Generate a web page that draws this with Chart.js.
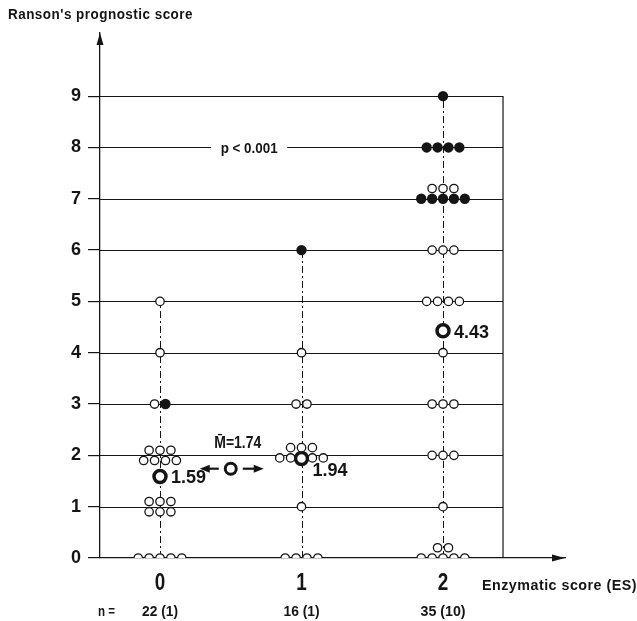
<!DOCTYPE html>
<html>
<head>
<meta charset="utf-8">
<script src="https://cdn.jsdelivr.net/npm/chart.js@4"></script>
<style>
  body { margin: 0; background: #fff; }
  #wrap { width: 637px; height: 621px; }
</style>
</head>
<body>
<div id="wrap"><canvas id="chartRanson" width="637" height="621"></canvas></div>
<script>
// ---- Data ----
const esLevels = [0, 1, 2];
const scoreLevels = [0, 1, 2, 3, 4, 5, 6, 7, 8, 9];

// number of patients per Ranson score (index = score), survivors (open) / deaths (filled)
const survivorsES0 = [5, 6, 7, 1, 1, 1, 0, 0, 0, 0];
const deathsES0    = [0, 0, 0, 1, 0, 0, 0, 0, 0, 0];
const survivorsES1 = [4, 1, 7, 2, 1, 0, 0, 0, 0, 0];
const deathsES1    = [0, 0, 0, 0, 0, 0, 1, 0, 0, 0];
const survivorsES2 = [7, 1, 3, 3, 1, 4, 3, 3, 0, 0];
const deathsES2    = [0, 0, 0, 0, 0, 0, 0, 5, 4, 1];

const groupMeans = [1.59, 1.94, 4.43];
const pooledMean = 1.74;
const groupN = ["22 (1)", "16 (1)", "35 (10)"];
const pText = "p < 0.001";

// ---- Layout of the stacked dots ----
const DOT_STEP = 0.077;
const ROW_GAP = 0.2;
const stackRows = {
  "0-1": ["xxx", "xxx"],
  "0-2": ["xxxx", "xxx"],
  "1-2": ["xx.xx", "xxx"],
  "2-0": ["xxxxx", "xx"],
  "2-7": ["xxxxx", "xxx"]
};
const stackBase = { "0-1": -0.1, "0-2": -0.1, "1-2": -0.05 };

const FONT = '"Liberation Sans", Arial, sans-serif';
const INK = '#151515';

function buildDots() {
  const open = [], filled = [];
  const survivors = [survivorsES0, survivorsES1, survivorsES2];
  const deaths = [deathsES0, deathsES1, deathsES2];
  esLevels.forEach((es, i) => {
    scoreLevels.forEach(score => {
      const nO = survivors[i][score], nF = deaths[i][score];
      if (nO + nF === 0) return;
      const key = es + "-" + score;
      const rows = stackRows[key] || ["x".repeat(nO + nF)];
      const kinds = rows.length > 1
        ? Array(nF).fill(1).concat(Array(nO).fill(0))
        : Array(nO).fill(0).concat(Array(nF).fill(1));
      const base = stackBase[key] || 0;
      let k = 0;
      rows.forEach((row, r) => {
        for (let j = 0; j < row.length; j++) {
          if (row[j] !== "x") continue;
          const p = { x: es + (j - (row.length - 1) / 2) * DOT_STEP, y: score + base + r * ROW_GAP };
          (kinds[k++] ? filled : open).push(p);
        }
      });
    });
  });
  return { open, filled };
}

function topScore(i) {
  const surv = [survivorsES0, survivorsES1, survivorsES2][i];
  const dead = [deathsES0, deathsES1, deathsES2][i];
  let top = 0;
  surv.forEach((v, s) => { if (v + dead[s] > 0) top = s; });
  return top;
}

function line(ctx, x1, y1, x2, y2) {
  ctx.beginPath();
  ctx.moveTo(x1, y1);
  ctx.lineTo(x2, y2);
  ctx.stroke();
}

function arrowHead(ctx, tipX, tipY, dx, dy, len, half) {
  ctx.beginPath();
  ctx.moveTo(tipX, tipY);
  ctx.lineTo(tipX - dx * len - dy * half, tipY - dy * len + dx * half);
  ctx.lineTo(tipX - dx * len + dy * half, tipY - dy * len - dx * half);
  ctx.closePath();
  ctx.fill();
}

// condensed look: squeeze the text horizontally to a given width
function fitText(ctx, text, x, y, width, align) {
  const w = ctx.measureText(text).width;
  ctx.save();
  ctx.translate(x, y);
  ctx.scale(width / w, 1);
  ctx.textAlign = align;
  ctx.fillText(text, 0, 0);
  ctx.restore();
}

// ---- Decorations drawn with the chart scales ----
const decorPlugin = {
  id: 'decor',
  beforeDatasetsDraw(chart) {
    const { ctx, chartArea, scales: { x, y } } = chart;
    const left = chartArea.left;
    const right = x.getPixelForValue(esLevels[esLevels.length - 1] - x.min);
    ctx.save();
    ctx.strokeStyle = INK;
    ctx.fillStyle = INK;
    ctx.lineWidth = 1.2;

    // horizontal lines
    scoreLevels.forEach(v => {
      if (v === 0) return;
      const py = Math.round(y.getPixelForValue(v)) + 0.5;
      line(ctx, left, py, right, py);
    });
    // right frame
    line(ctx, right, y.getPixelForValue(0), right, y.getPixelForValue(scoreLevels[scoreLevels.length - 1]));

    // p value on the 8 line
    ctx.textBaseline = 'middle';
    ctx.font = 'bold 15px ' + FONT;
    const px = x.getPixelForValue(0.63), py = y.getPixelForValue(8);
    ctx.fillStyle = '#fff';
    ctx.fillRect(px - 38, py - 3, 76, 6);
    ctx.fillStyle = INK;
    fitText(ctx, pText, px, py + 1, 57, 'center');

    // dash-dot stems
    ctx.setLineDash([7, 3, 2, 3]);
    ctx.lineWidth = 1;
    esLevels.forEach((es, i) => {
      const sx = Math.round(x.getPixelForValue(es)) + 0.5;
      line(ctx, sx, y.getPixelForValue(0), sx, y.getPixelForValue(topScore(i)));
    });
    ctx.setLineDash([]);

    // axis arrows
    arrowHead(ctx, left, chartArea.top, 0, -1, 12, 3.5);
    arrowHead(ctx, chartArea.right, y.getPixelForValue(0), 1, 0, 13, 3.5);

    // category labels under the x axis
    ctx.font = 'bold 24px ' + FONT;
    x.ticks.forEach(t => fitText(ctx, String(t.value), x.getPixelForValue(t.value), 583, 10.5, 'center'));

    // texts
    ctx.font = 'bold 14px ' + FONT;
    ctx.letterSpacing = '0.5px';
    fitText(ctx, "Ranson's prognostic score", 8, 15, 185, 'left');
    ctx.font = 'bold 15px ' + FONT;
    fitText(ctx, "Enzymatic score (ES)", 482, 586, 155, 'left');
    ctx.letterSpacing = '0px';
    fitText(ctx, "n =", 98, 612, 17, 'left');
    const nWidth = [36, 36, 45];
    groupN.forEach((t, i) => fitText(ctx, t, x.getPixelForValue(esLevels[i]), 612, nWidth[i], 'center'));
    ctx.restore();
  },
  afterDatasetsDraw(chart) {
    const { ctx, scales: { x, y } } = chart;
    ctx.save();
    ctx.fillStyle = INK;
    ctx.strokeStyle = INK;
    ctx.font = 'bold 18px ' + FONT;
    ctx.textAlign = 'left';
    ctx.textBaseline = 'middle';
    const shift = [2, 13, 2];
    groupMeans.forEach((m, i) => {
      ctx.fillText(m.toFixed(2), x.getPixelForValue(esLevels[i]) + 11, y.getPixelForValue(m) + shift[i]);
    });
    // pooled mean of ES 0 and 1
    const cx = x.getPixelForValue(0.5), cy = y.getPixelForValue(pooledMean);
    ctx.lineWidth = 2.2;
    line(ctx, cx - 12, cy, cx - 24, cy);
    arrowHead(ctx, cx - 31, cy, -1, 0, 10, 4);
    line(ctx, cx + 12, cy, cx + 24, cy);
    arrowHead(ctx, cx + 33, cy, 1, 0, 10, 4);
    ctx.font = 'bold 17px ' + FONT;
    fitText(ctx, "M\u0304=1.74", cx + 7, cy - 25, 47, 'center');
    ctx.restore();
  }
};

// ---- Chart ----
const dots = buildDots();

new Chart(document.getElementById('chartRanson'), {
  type: 'scatter',
  data: {
    datasets: [
      {
        label: 'survivors',
        data: dots.open,
        pointRadius: 4.2,
        pointBorderWidth: 1.3,
        pointBackgroundColor: '#fff',
        pointBorderColor: INK
      },
      {
        label: 'deaths',
        data: dots.filled,
        pointRadius: 5.2,
        pointBorderWidth: 0,
        pointBackgroundColor: INK,
        pointBorderColor: INK
      },
      {
        label: 'group means',
        data: groupMeans.map((m, i) => ({ x: esLevels[i], y: m })),
        pointRadius: 6,
        pointBorderWidth: 3.5,
        pointBackgroundColor: '#fff',
        pointBorderColor: INK
      },
      {
        label: 'pooled mean',
        data: [{ x: 0.5, y: pooledMean }],
        pointRadius: 5.5,
        pointBorderWidth: 3,
        pointBackgroundColor: '#fff',
        pointBorderColor: INK
      }
    ]
  },
  options: {
    responsive: false,
    animation: false,
    layout: { padding: { top: 33, right: 72, left: 0, bottom: 0 } },
    plugins: { legend: { display: false }, tooltip: { enabled: false } },
    scales: {
      x: {
        type: 'linear',
        min: -0.424,
        max: 2.862,
        afterBuildTicks: s => { s.ticks = esLevels.map(v => ({ value: v })); },
        afterFit: s => { s.height = 63; },
        grid: { display: false, drawTicks: false, tickLength: 0 },
        border: { display: true, color: INK, width: 1.3 },
        ticks: { display: false }
      },
      y: {
        min: 0,
        max: 10.23,
        afterBuildTicks: s => { s.ticks = scoreLevels.map(v => ({ value: v })); },
        afterFit: s => { s.width = 100; },
        grid: { drawOnChartArea: false, drawTicks: true, tickLength: 12, color: INK, lineWidth: 1.2 },
        border: { display: true, color: INK, width: 1.3 },
        ticks: {
          padding: 7,
          color: INK,
          font: { family: FONT, size: 18, weight: 'bold' }
        }
      }
    }
  },
  plugins: [decorPlugin]
});
</script>
</body>
</html>
